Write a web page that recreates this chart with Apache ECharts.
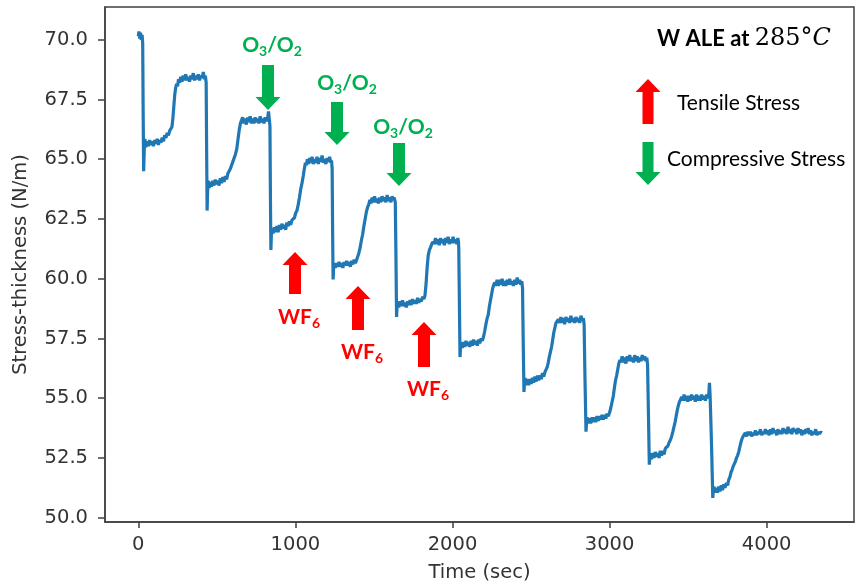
<!DOCTYPE html>
<html><head><meta charset="utf-8">
<script src="https://cdn.jsdelivr.net/npm/echarts@6/dist/echarts.min.js"></script>
<style>html,body{margin:0;padding:0;background:#fff}#c{width:855px;height:588px}</style>
</head><body><div id="c"></div><script>
// [time (sec), stress-thickness (N/m)], one array per ALE cycle
const cycle0 = [[0,70.15],[4,70.35],[9,70.05],[14,70.3],[19,70.0],[24,70.2],[28,69.85],[31,66.9],[34,64.5],[38,65.4],[42,65.85],[48,65.5],[56,65.75],[64,65.55],[72,65.8],[80,65.6],[88,65.75],[96,65.55],[104,65.8],[112,65.65],[120,65.85],[128,65.6],[136,65.8],[144,65.7],[152,65.9],[160,65.75],[168,66.0],[176,65.9],[184,66.1],[192,66.0],[200,66.2],[208,66.15],[214,66.35],[220,66.7],[226,67.2],[232,67.7],[238,68.0],[244,68.15],[250,68.05],[256,68.35],[263,68.2],[270,68.45],[278,68.25],[286,68.5],[294,68.3],[302,68.55],[310,68.3],[318,68.45],[326,68.25],[334,68.5],[342,68.35],[350,68.6],[358,68.3],[366,68.5],[374,68.35],[382,68.55],[390,68.3],[398,68.5],[406,68.4],[414,68.65],[421,68.35],[427,68.5]];
const cycle1 = [[432,68.2],[435,65.4],[438,62.85],[441,63.6],[445,64.1],[451,63.8],[458,64.05],[466,63.85],[474,64.1],[482,63.9],[490,64.15],[498,63.95],[506,64.1],[514,63.9],[522,64.2],[530,64.0],[538,64.25],[546,64.05],[554,64.3],[562,64.15],[570,64.4],[578,64.35],[586,64.6],[594,64.55],[602,64.9],[610,64.95],[618,65.2],[626,65.4],[634,65.8],[642,66.2],[650,66.5],[657,66.45],[664,66.75],[672,66.5],[680,66.7],[688,66.45],[696,66.75],[704,66.55],[712,66.8],[720,66.5],[728,66.7],[736,66.5],[744,66.75],[752,66.55],[760,66.7],[768,66.5],[776,66.8],[784,66.55],[792,66.7],[800,66.5],[808,66.75],[816,66.6],[823,66.7],[829,67.0],[834,66.65]];
const cycle2 = [[838,66.4],[841,63.5],[844,61.2],[847,61.8],[851,62.1],[858,61.9],[866,62.15],[874,61.95],[882,62.2],[890,61.95],[898,62.25],[906,62.05],[914,62.3],[922,62.1],[930,62.25],[938,62.05],[946,62.35],[954,62.2],[962,62.4],[970,62.25],[978,62.45],[986,62.4],[994,62.55],[1002,62.75],[1010,62.85],[1018,63.1],[1026,63.4],[1034,63.75],[1042,64.0],[1050,64.3],[1057,64.6],[1064,64.85],[1070,64.75],[1076,65.0],[1083,64.8],[1090,65.05],[1098,64.85],[1106,65.1],[1114,64.8],[1122,65.0],[1130,64.85],[1138,65.1],[1146,64.8],[1154,65.05],[1162,64.9],[1170,65.15],[1178,64.85],[1186,65.0],[1194,64.8],[1202,65.05],[1210,64.9],[1218,65.1],[1225,64.85],[1230,64.95]];
const cycle3 = [[1234,64.6],[1237,62.0],[1240,59.97],[1243,60.4],[1247,60.65],[1254,60.45],[1262,60.65],[1270,60.5],[1278,60.7],[1286,60.5],[1294,60.65],[1302,60.45],[1310,60.7],[1318,60.55],[1326,60.75],[1334,60.55],[1342,60.7],[1350,60.5],[1358,60.75],[1366,60.6],[1374,60.8],[1382,60.65],[1390,60.8],[1398,60.95],[1405,61.1],[1412,61.3],[1420,61.6],[1428,61.85],[1436,62.2],[1444,62.5],[1452,62.8],[1460,63.0],[1467,63.1],[1474,63.3],[1481,63.15],[1488,63.4],[1496,63.2],[1504,63.45],[1512,63.2],[1520,63.35],[1528,63.15],[1536,63.4],[1544,63.2],[1552,63.45],[1560,63.25],[1568,63.4],[1576,63.2],[1584,63.5],[1592,63.25],[1600,63.4],[1608,63.2],[1616,63.45],[1622,63.3],[1628,63.4]];
const cycle4 = [[1636,63.2],[1640,61.0],[1644,58.4],[1647,58.8],[1651,59.05],[1658,58.8],[1666,59.05],[1674,58.85],[1682,59.1],[1690,58.85],[1698,59.0],[1706,58.8],[1714,59.05],[1722,58.9],[1730,59.1],[1738,58.9],[1746,59.15],[1754,58.95],[1762,59.1],[1770,58.95],[1778,59.2],[1786,59.0],[1794,59.15],[1802,59.05],[1810,59.25],[1818,59.15],[1825,59.3],[1832,59.8],[1839,60.5],[1846,61.0],[1853,61.2],[1860,61.3],[1868,61.45],[1876,61.55],[1884,61.45],[1892,61.7],[1900,61.45],[1908,61.65],[1916,61.4],[1924,61.7],[1932,61.5],[1940,61.65],[1948,61.4],[1956,61.7],[1964,61.5],[1972,61.75],[1980,61.45],[1988,61.65],[1996,61.5],[2004,61.75],[2012,61.5],[2020,61.65],[2028,61.45],[2034,61.7],[2038,61.55]];
const cycle5 = [[2040,61.3],[2044,59.0],[2048,56.72],[2051,57.1],[2055,57.35],[2062,57.1],[2070,57.35],[2078,57.15],[2086,57.4],[2094,57.2],[2102,57.35],[2110,57.15],[2118,57.4],[2126,57.2],[2134,57.45],[2142,57.25],[2150,57.4],[2158,57.2],[2166,57.45],[2174,57.3],[2182,57.5],[2190,57.4],[2197,57.55],[2205,57.8],[2213,58.1],[2221,58.35],[2228,58.5],[2235,58.85],[2242,59.1],[2249,59.35],[2256,59.6],[2263,59.75],[2270,59.85],[2277,59.7],[2284,59.95],[2292,59.7],[2300,59.95],[2308,59.75],[2316,60.0],[2324,59.7],[2332,59.9],[2340,59.7],[2348,59.95],[2356,59.75],[2364,60.0],[2372,59.75],[2380,59.9],[2388,59.7],[2396,59.95],[2404,59.75],[2412,60.05],[2420,59.8],[2428,59.95],[2435,59.75],[2441,59.9]];
const cycle6 = [[2446,59.6],[2450,57.5],[2455,55.26],[2458,55.6],[2462,55.85],[2469,55.55],[2477,55.8],[2485,55.55],[2493,55.8],[2501,55.6],[2509,55.85],[2517,55.65],[2525,55.9],[2533,55.7],[2541,55.95],[2549,55.75],[2557,55.95],[2565,55.8],[2573,56.05],[2581,55.9],[2589,56.1],[2596,56.05],[2603,56.3],[2610,56.5],[2617,56.75],[2624,56.95],[2631,57.15],[2638,57.45],[2645,57.75],[2652,57.95],[2659,58.15],[2666,58.2],[2674,58.3],[2682,58.15],[2690,58.4],[2698,58.15],[2706,58.35],[2714,58.1],[2722,58.4],[2730,58.2],[2738,58.35],[2746,58.15],[2754,58.45],[2762,58.2],[2770,58.35],[2778,58.15],[2786,58.4],[2794,58.2],[2802,58.35],[2810,58.15],[2818,58.45],[2826,58.25],[2833,58.35]];
const cycle7 = [[2838,58.1],[2843,56.0],[2850,53.6],[2853,53.95],[2857,54.2],[2864,53.95],[2872,54.15],[2880,53.95],[2888,54.2],[2896,54.0],[2904,54.2],[2912,54.0],[2920,54.25],[2928,54.05],[2936,54.25],[2944,54.1],[2952,54.3],[2960,54.1],[2968,54.3],[2976,54.15],[2984,54.35],[2992,54.25],[3000,54.4],[3008,54.6],[3016,54.85],[3024,55.1],[3031,55.45],[3038,55.75],[3045,55.95],[3052,56.2],[3059,56.45],[3066,56.6],[3073,56.5],[3080,56.75],[3088,56.5],[3096,56.7],[3104,56.45],[3112,56.75],[3120,56.55],[3128,56.8],[3136,56.55],[3144,56.7],[3152,56.5],[3160,56.8],[3168,56.55],[3176,56.75],[3184,56.5],[3192,56.7],[3200,56.55],[3208,56.8],[3216,56.6],[3224,56.75],[3231,56.55],[3237,56.7]];
const cycle8 = [[3242,56.4],[3247,54.5],[3253,52.22],[3256,52.5],[3260,52.7],[3267,52.45],[3275,52.7],[3283,52.5],[3291,52.75],[3299,52.55],[3307,52.7],[3315,52.5],[3323,52.8],[3331,52.6],[3339,52.8],[3347,52.65],[3355,52.9],[3363,52.85],[3371,53.0],[3379,53.15],[3387,53.25],[3395,53.4],[3403,53.6],[3410,53.8],[3417,54.0],[3424,54.25],[3431,54.5],[3438,54.7],[3445,54.85],[3452,54.95],[3459,55.05],[3466,54.9],[3474,55.15],[3482,54.9],[3490,55.1],[3498,54.85],[3506,55.1],[3514,54.9],[3522,55.15],[3530,54.95],[3538,55.1],[3546,54.85],[3554,55.15],[3562,54.9],[3570,55.1],[3578,54.9],[3586,55.15],[3594,54.95],[3602,55.1],[3610,54.9],[3618,55.15],[3626,55.0],[3632,55.2],[3636,55.64],[3640,55.1]];
const cycle9 = [[3645,54.0],[3650,52.8],[3657,50.83],[3660,51.1],[3664,51.3],[3671,51.05],[3679,51.25],[3687,51.05],[3695,51.3],[3703,51.1],[3711,51.35],[3719,51.15],[3727,51.4],[3735,51.25],[3743,51.45],[3751,51.35],[3759,51.6],[3766,51.7],[3773,51.9],[3780,52.0],[3787,52.15],[3794,52.25],[3801,52.35],[3808,52.5],[3815,52.6],[3822,52.75],[3829,52.95],[3836,53.15],[3843,53.3],[3850,53.4],[3857,53.45],[3864,53.55],[3872,53.4],[3880,53.6],[3888,53.45],[3896,53.6],[3904,53.4],[3912,53.55],[3920,53.45],[3928,53.65],[3936,53.45],[3944,53.6],[3952,53.5],[3960,53.7],[3968,53.45],[3976,53.6],[3984,53.5],[3992,53.7],[4000,53.5],[4008,53.65],[4016,53.45],[4024,53.7],[4032,53.5],[4040,53.75],[4048,53.55],[4056,53.65],[4064,53.45],[4072,53.7],[4080,53.5],[4088,53.65],[4096,53.5],[4104,53.75],[4112,53.55],[4120,53.7],[4128,53.5],[4136,53.8],[4144,53.55],[4152,53.7],[4160,53.5],[4168,53.75],[4176,53.6],[4184,53.7],[4192,53.5],[4200,53.75],[4208,53.55],[4216,53.7],[4224,53.45],[4232,53.65],[4240,53.5],[4248,53.7],[4256,53.55],[4264,53.75],[4272,53.5],[4280,53.65],[4288,53.45],[4296,53.6],[4304,53.5],[4312,53.7],[4320,53.45],[4328,53.6],[4336,53.5],[4344,53.6],[4350,53.55]];

const xTicks = [0, 1000, 2000, 3000, 4000];
const yTicks = [50, 52.5, 55, 57.5, 60, 62.5, 65, 67.5, 70];
const xTitle = 'Time (sec)';
const yTitle = 'Stress-thickness (N/m)';

const series = [].concat(cycle0, cycle1, cycle2, cycle3, cycle4, cycle5, cycle6, cycle7, cycle8, cycle9);

// annotation layout (pixels)
const GREEN = '#00b050', RED = '#ff0000';
const greenMarks = [
  {cx: 268, top: 65, tip: 110, lx: 272, ly: 45},
  {cx: 337, top: 102, tip: 145, lx: 347, ly: 83},
  {cx: 399, top: 143, tip: 186, lx: 403, ly: 127}
];
const redMarks = [
  {cx: 295, tip: 252, bottom: 294, lx: 299, ly: 317},
  {cx: 358, tip: 286, bottom: 330, lx: 362, ly: 352},
  {cx: 424, tip: 322, bottom: 367, lx: 428, ly: 389}
];

function arrow(cx, from, to, color, sw, hw, hh) {
  const d = to > from ? 1 : -1;
  const hb = to - d * hh;
  return {type: 'polygon', silent: true, shape: {points: [
    [cx - sw, from], [cx + sw, from], [cx + sw, hb], [cx + hw, hb], [cx, to], [cx - hw, hb], [cx - sw, hb]
  ]}, style: {fill: color}};
}
function subLabel(x, y, text, color) {
  return {type: 'text', x: x, y: y, silent: true, style: {
    text: text, align: 'center', verticalAlign: 'middle',
    rich: {
      n: {fontFamily: 'Lato', fontWeight: 'bold', fontSize: 21, fill: color},
      s: {fontFamily: 'Lato', fontWeight: 'bold', fontSize: 14, fill: color, padding: [12, 0, 0, 0]}
    }
  }};
}
const graphics = [];
greenMarks.forEach(m => {
  graphics.push(arrow(m.cx, m.top, m.tip, GREEN, 6, 12.5, 13));
  graphics.push(subLabel(m.lx, m.ly, '{n|O}{s|3}{n|/O}{s|2}', GREEN));
});
redMarks.forEach(m => {
  graphics.push(arrow(m.cx, m.bottom, m.tip, RED, 6, 12.5, 13));
  graphics.push(subLabel(m.lx, m.ly, '{n|WF}{s|6}', RED));
});
graphics.push(arrow(648, 124, 79, RED, 5.5, 12.5, 13));
graphics.push(arrow(648, 142, 185, GREEN, 5.5, 12.5, 13));
graphics.push({type: 'text', x: 657, y: 39, silent: true, style: {
  text: '{b|W ALE at }{m|285°}{i|C}', align: 'left', verticalAlign: 'middle',
  rich: {
    b: {fontFamily: 'Lato', fontWeight: 'bold', fontSize: 22, fill: '#000'},
    m: {fontFamily: 'DejaVu Serif', fontSize: 24, fill: '#000'},
    i: {fontFamily: 'DejaVu Serif', fontStyle: 'italic', fontSize: 24, fill: '#000'}
  }
}});
graphics.push({type: 'text', x: 677, y: 103, silent: true, style: {
  text: 'Tensile Stress', font: '21px Lato', fill: '#000', align: 'left', verticalAlign: 'middle'}});
graphics.push({type: 'text', x: 667, y: 159, silent: true, style: {
  text: 'Compressive Stress', font: '21px Lato', fill: '#000', align: 'left', verticalAlign: 'middle'}});

const AX = '#404040', TXT = '#333';
const chart = echarts.init(document.getElementById('c'), null, {renderer: 'canvas'});
chart.setOption({
  animation: false,
  backgroundColor: '#fff',
  grid: {left: 105, top: 7, width: 749, height: 519, show: true, borderColor: AX, borderWidth: 1.5, backgroundColor: 'transparent'},
  xAxis: {
    type: 'value', min: -212, max: 4556,
    name: xTitle, nameLocation: 'middle', nameGap: 41,
    nameTextStyle: {fontFamily: 'DejaVu Sans', fontSize: 19.5, color: TXT},
    axisLine: {show: true, onZero: false, lineStyle: {color: AX, width: 1.5}},
    axisTick: {show: true, length: 6, lineStyle: {color: AX, width: 1.5}, customValues: xTicks},
    axisLabel: {customValues: xTicks, margin: 13, fontFamily: 'DejaVu Sans', fontSize: 19.5, color: TXT,
      formatter: v => String(v)},
    splitLine: {show: false}
  },
  yAxis: {
    type: 'value', min: 49.82, max: 71.37,
    name: yTitle, nameLocation: 'middle', nameGap: 74, nameRotate: 90,
    nameTextStyle: {fontFamily: 'DejaVu Sans', fontSize: 19.5, color: TXT},
    axisLine: {show: true, onZero: false, lineStyle: {color: AX, width: 1.5}},
    axisTick: {show: true, length: 7, lineStyle: {color: AX, width: 1.5}, customValues: yTicks},
    axisLabel: {customValues: yTicks, margin: 17, fontFamily: 'DejaVu Sans', fontSize: 19.5, color: TXT,
      formatter: v => Number(v).toFixed(1)},
    splitLine: {show: false}
  },
  series: [{
    type: 'line', data: series, showSymbol: false, symbol: 'none',
    lineStyle: {color: '#1f77b4', width: 3.2}, clip: true
  }],
  graphic: graphics
});
</script></body></html>
